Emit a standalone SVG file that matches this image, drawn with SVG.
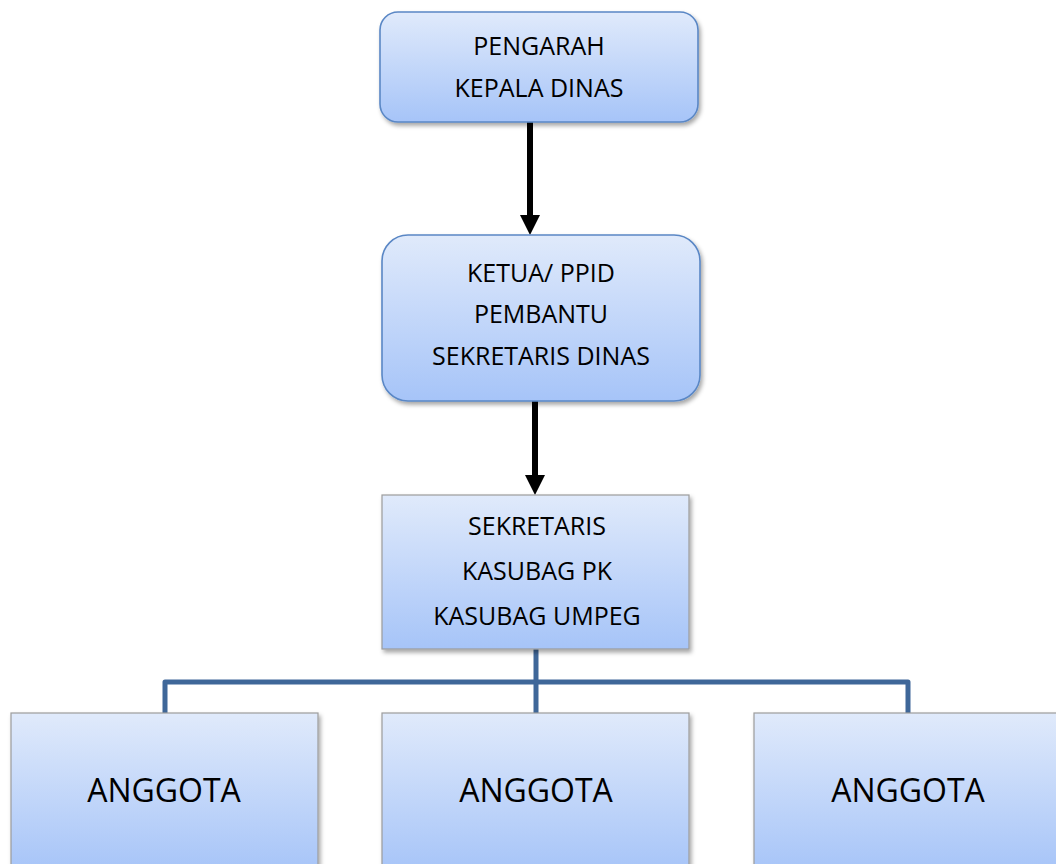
<svg xmlns="http://www.w3.org/2000/svg" width="1056" height="864" viewBox="0 0 1056 864">
<style>
.t{font-family:"Open Sans","Noto Sans","Liberation Sans",sans-serif;font-size:25px;fill:#000;text-anchor:middle}
.big{font-size:32px}
.rb{fill:url(#g);stroke:#5a87c5;stroke-width:1.6;filter:url(#sh)}
.sb{fill:url(#g);stroke:#9c9c9c;stroke-width:1.2;filter:url(#sh)}
.arr{stroke:#000;stroke-width:6;fill:none}
.conn{stroke:#3f6799;stroke-width:5;fill:none;stroke-linejoin:round}
</style>
<defs>
<linearGradient id="g" x1="0" y1="0" x2="0" y2="1">
<stop offset="0" stop-color="#e0eafb"/>
<stop offset="1" stop-color="#a6c4f8"/>
</linearGradient>
<filter id="sh" x="-10%" y="-10%" width="120%" height="130%">
<feDropShadow dx="2" dy="3" stdDeviation="2" flood-color="#000" flood-opacity="0.35"/>
</filter>
<marker id="ah" markerWidth="20" markerHeight="20" refX="10" refY="20" viewBox="0 0 20 20" markerUnits="userSpaceOnUse" orient="auto-start-reverse">
<path d="M0,0 L20,0 L10,20 Z" fill="#000"/>
</marker>
</defs>
<g id="connectors">
<path class="arr" d="M530,122 V215"/>
<path d="M520,215 L540,215 L530,235 Z" fill="#000"/>
<path class="arr" d="M535,401 V475"/>
<path d="M525,475 L545,475 L535,495 Z" fill="#000"/>
<path class="conn" d="M536,649 V682"/>
<path class="conn" d="M165,713 V682 H908 V713"/>
<path class="conn" d="M536,682 V713"/>
</g>
<g id="n1">
<rect class="rb" x="380" y="12" width="318" height="110" rx="18"/>
<text class="t" x="539" y="55">PENGARAH</text>
<text class="t" x="539" y="97">KEPALA DINAS</text>
</g>
<g id="n2">
<rect class="rb" x="382" y="235" width="318" height="166" rx="26"/>
<text class="t" x="541" y="282">KETUA/ PPID</text>
<text class="t" x="541" y="323">PEMBANTU</text>
<text class="t" x="541" y="365">SEKRETARIS DINAS</text>
</g>
<g id="n3">
<rect class="sb" x="382" y="495" width="307" height="154"/>
<text class="t" x="537" y="535">SEKRETARIS</text>
<text class="t" x="537" y="580">KASUBAG PK</text>
<text class="t" x="537" y="625">KASUBAG UMPEG</text>
</g>
<g id="n4">
<rect class="sb" x="11" y="713" width="307" height="160"/>
<text class="t big" x="164" y="802">ANGGOTA</text>
</g>
<g id="n5">
<rect class="sb" x="382" y="713" width="307" height="160"/>
<text class="t big" x="536" y="802">ANGGOTA</text>
</g>
<g id="n6">
<rect class="sb" x="754" y="713" width="307" height="160"/>
<text class="t big" x="908" y="802">ANGGOTA</text>
</g>
</svg>
